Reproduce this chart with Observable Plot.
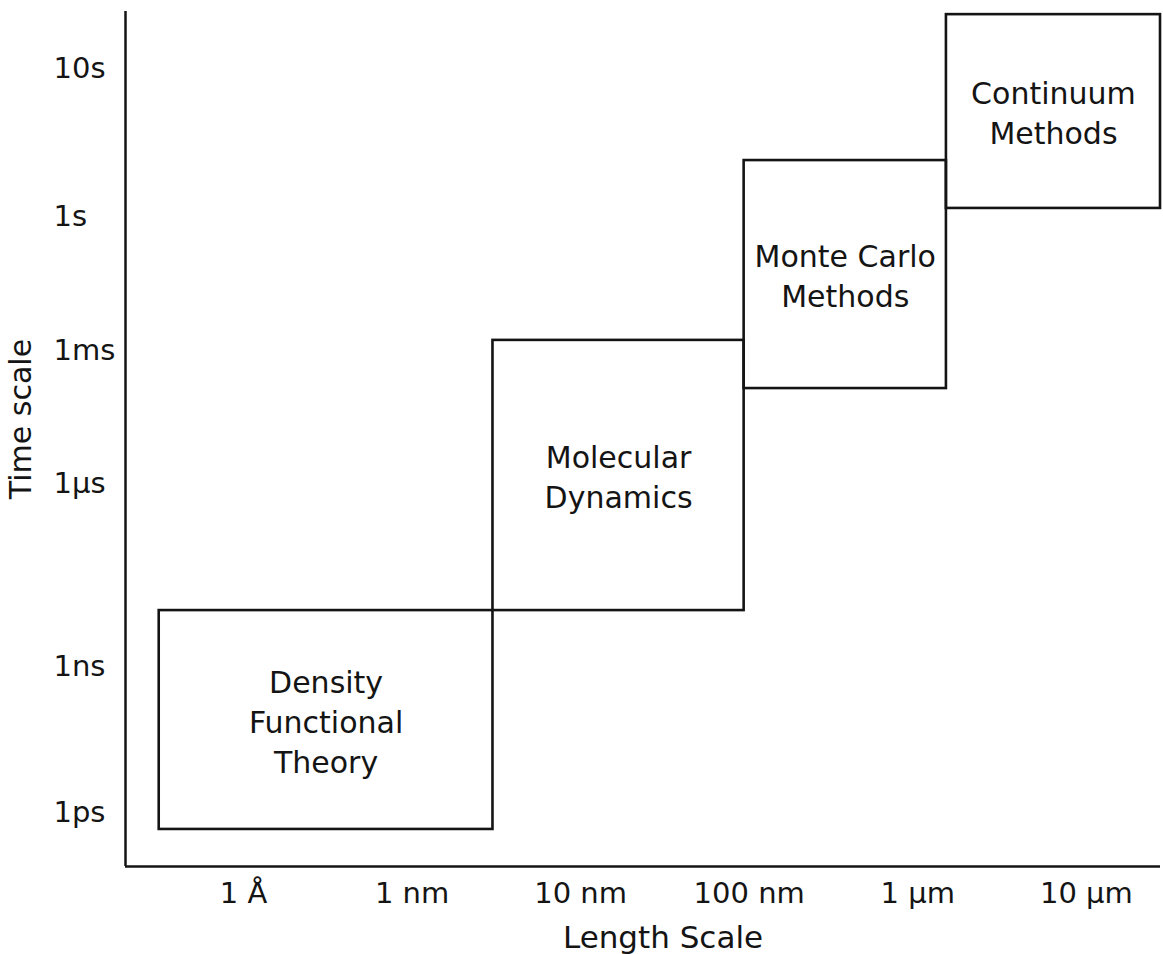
<!DOCTYPE html>
<html>
<head>
<meta charset="utf-8">
<script src="https://cdn.jsdelivr.net/npm/d3@7"></script>
<script src="https://cdn.jsdelivr.net/npm/@observablehq/plot@0.6"></script>
<style>
  html, body { margin: 0; padding: 0; background: #fff; }
  #chart svg { display: block; }
</style>
</head>
<body>
<div id="chart"></div>
<script>
// Simulation methods (box labels)
const methods = ["Density\nFunctional\nTheory", "Molecular\nDynamics", "Monte Carlo\nMethods", "Continuum\nMethods"];
// Length range of each method, log10(metres) (1 Å = -10 ... 10 µm = -5)
const lengthFrom = [-10.50, -8.52, -7.03, -5.83];
const lengthTo   = [-8.52, -7.03, -5.83, -4.56];
// Time range of each method on the schematic time-scale axis (unitless levels)
const timeFrom = [1.30, 8.98, 16.77, 23.09];
const timeTo   = [8.98, 18.46, 24.77, 29.89];

// Axis ticks
const lengthTicks  = [-10, -9, -8, -7, -6, -5];
const lengthLabels = ["1 Å", "1 nm", "10 nm", "100 nm", "1 µm", "10 µm"];
const timeTicks    = [1.89, 7.02, 13.44, 18.10, 22.81, 28.00];
const timeLabels   = ["1ps", "1ns", "1µs", "1ms", "1s", "10s"];

const xDomain = [-10.7, -4.56];
const yDomain = [0, 30];

const boxes = methods.map((m, i) => ({
  method: m, x1: lengthFrom[i], x2: lengthTo[i], y1: timeFrom[i], y2: timeTo[i]
}));

const ink = "#141414";

const chart = Plot.plot({
  width: 1163,
  height: 954,
  marginTop: 11,
  marginBottom: 88,
  marginLeft: 125,
  marginRight: 3,
  style: { fontFamily: "'DejaVu Sans', sans-serif", background: "#fff", color: ink },
  x: { domain: xDomain },
  y: { domain: yDomain },
  marks: [
    Plot.axisX(lengthTicks, {
      tickFormat: d => lengthLabels[lengthTicks.indexOf(d)],
      tickSize: 0, tickPadding: 16, fontSize: 29, fill: ink, label: null
    }),
    Plot.axisY(timeTicks, {
      tickFormat: d => timeLabels[timeTicks.indexOf(d)],
      tickSize: 0, tickPadding: 72, textAnchor: "start", fontSize: 29, fill: ink, label: null
    }),
    Plot.ruleX([xDomain[0]], { stroke: ink, strokeWidth: 2.5 }),
    Plot.ruleY([yDomain[0]], { stroke: ink, strokeWidth: 2.5 }),
    Plot.rect(boxes, {
      x1: "x1", x2: "x2", y1: "y1", y2: "y2",
      fill: "none", stroke: ink, strokeWidth: 2.6
    }),
    Plot.text(boxes, {
      x: d => (d.x1 + d.x2) / 2,
      y: d => (d.y1 + d.y2) / 2,
      text: "method",
      fontSize: 30, lineHeight: 1.33, lineAnchor: "middle", fill: ink
    }),
    Plot.text(["Length Scale"], {
      text: d => d, frameAnchor: "bottom", dx: 20, dy: 72,
      textAnchor: "middle", lineAnchor: "middle", fontSize: 31, fill: ink
    }),
    Plot.text(["Time scale"], {
      text: d => d, frameAnchor: "left", rotate: -90, dx: -104, dy: -20,
      textAnchor: "middle", lineAnchor: "middle", fontSize: 30, fill: ink
    })
  ]
});

document.getElementById("chart").appendChild(chart);
</script>
</body>
</html>
